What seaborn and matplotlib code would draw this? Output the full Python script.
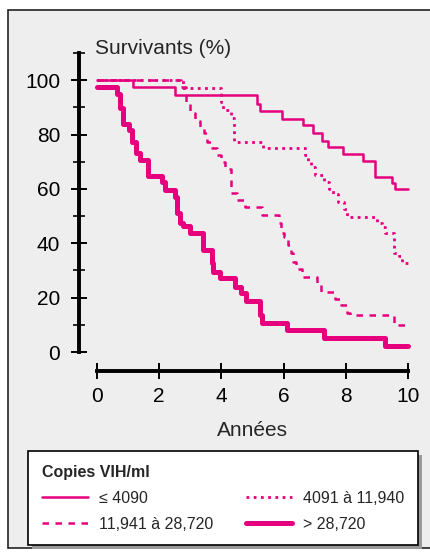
import numpy as np
import pandas as pd
import seaborn as sns
import matplotlib.pyplot as plt
from matplotlib.patches import Rectangle

# survie (%) selon la charge virale (courbes en escalier)
t_low = [0, 1.17, 2.51, 5.13, 5.24, 5.96, 6.63, 6.93, 7.22, 7.44, 7.90, 8.54, 8.94, 9.47, 9.58, 10]
s_low = [100, 97.5, 94.7, 91.4, 88.6, 85.9, 83.5, 80.6, 77.7, 75.5, 73.0, 70.2, 64.5, 62.0, 59.8, 59.8]

t_mid1 = [0, 2.75, 3.98, 4.05, 4.30, 4.40, 5.35, 6.70, 6.80, 6.88, 7.00, 7.30, 7.45, 7.58, 7.75,
          7.95, 8.05, 9.00, 9.15, 9.25, 9.55, 9.70, 9.80, 10]
s_mid1 = [100, 97.0, 92.0, 89.0, 86.0, 77.3, 75.0, 72.5, 70.0, 68.0, 65.1, 62.6, 59.8, 58.0, 55.3,
          52.5, 49.5, 47.5, 46.0, 43.9, 36.3, 35.4, 32.8, 32.8]

t_mid2 = [0, 2.70, 2.85, 3.00, 3.15, 3.30, 3.45, 3.55, 3.70, 3.85, 4.00, 4.12, 4.30, 4.50, 4.75,
          5.30, 5.85, 5.92, 6.00, 6.15, 6.25, 6.30, 6.40, 6.60, 7.07, 7.20, 7.65, 7.85, 8.05, 8.12,
          9.55, 10]
s_mid2 = [100, 97.5, 92.0, 87.8, 85.0, 82.8, 80.4, 77.2, 75.0, 72.3, 70.0, 67.2, 58.6, 55.8, 53.3,
          50.5, 47.4, 43.7, 42.3, 39.3, 36.4, 33.0, 30.4, 27.5, 24.6, 22.2, 19.4, 17.3, 14.2, 13.6,
          10.0, 10.0]

t_high = [0, 0.63, 0.74, 0.85, 1.04, 1.13, 1.24, 1.38, 1.65, 2.08, 2.19, 2.51, 2.58, 2.67, 2.77,
          3.00, 3.42, 3.69, 3.74, 3.96, 4.44, 4.63, 4.79, 5.24, 5.29, 6.10, 7.30, 9.26, 10]
s_high = [97.5, 95.0, 89.7, 84.0, 81.6, 77.3, 73.1, 70.6, 64.7, 62.6, 59.6, 57.1, 51.0, 47.4, 46.5,
          43.6, 37.5, 32.6, 29.5, 27.1, 24.0, 21.6, 18.9, 13.6, 10.8, 8.1, 5.0, 2.3, 2.3]

labels = ["\u2264 4090", "4091 \u00e0 11,940", "11,941 \u00e0 28,720", "> 28,720"]
x_ticks = [0, 2, 4, 6, 8, 10]
y_ticks = [0, 20, 40, 60, 80, 100]

MAGENTA = "#e6007e"

sns.set_style("ticks")
plt.rcParams['font.family'] = ['Liberation Sans', 'DejaVu Sans']

fig = plt.figure(figsize=(4.3, 5.58), dpi=100)
fig.patch.set_facecolor("white")
# cadre gris autour du graphique
fig.patches.append(Rectangle((8 / 430, 1 - 548 / 558), 430 / 430, 538 / 558, transform=fig.transFigure,
                             facecolor="#eeeeee", edgecolor="#222222", lw=1.2, zorder=-5))

ax = fig.add_axes([97 / 430, 1 - 352 / 558, 311 / 430, 299 / 558])
ax.set_facecolor("none")

sns.lineplot(x=t_low, y=s_low, ax=ax, color=MAGENTA, lw=1.8, drawstyle="steps-post",
             label=labels[0], estimator=None, sort=False, clip_on=False)
sns.lineplot(x=t_mid1, y=s_mid1, ax=ax, color=MAGENTA, lw=2.0, linestyle=(0, (1, 1.6)),
             drawstyle="steps-post", label=labels[1], estimator=None, sort=False, clip_on=False)
sns.lineplot(x=t_mid2, y=s_mid2, ax=ax, color=MAGENTA, lw=1.8, linestyle=(0, (2.6, 2.6)),
             drawstyle="steps-post", label=labels[2], estimator=None, sort=False, clip_on=False)
sns.lineplot(x=t_high, y=s_high, ax=ax, color=MAGENTA, lw=3.6, drawstyle="steps-post",
             label=labels[3], estimator=None, sort=False, clip_on=False)

ax.set_xlim(0, 10)
ax.set_ylim(0, 110)
ax.set_xticks(x_ticks)
ax.set_yticks(y_ticks)
ax.set_yticks(np.arange(10, 111, 20), minor=True)
ax.tick_params(axis="both", which="major", direction="inout", length=11, width=1.4,
               labelsize=15, colors="black")
ax.tick_params(axis="y", which="minor", direction="inout", length=8, width=1.4)
ax.tick_params(axis="y", pad=8)
ax.tick_params(axis="x", pad=6)

sns.despine(ax=ax, offset={"left": 13, "bottom": 13.7})
for side in ["left", "bottom"]:
    ax.spines[side].set_linewidth(2.8)
    ax.spines[side].set_color("black")

ax.set_xlabel("Ann\u00e9es", fontsize=15, labelpad=11)
ax.set_ylabel("")
fig.text(95 / 430, 1 - 53.5 / 558, "Survivants (%)", fontsize=15, va="baseline", ha="left")

h, l = ax.get_legend_handles_labels()
order = [0, 2, 1, 3]
leg = ax.legend([h[i] for i in order], [l[i] for i in order], ncol=2, loc="upper left",
                bbox_to_anchor=(28 / 430, 1 - 452 / 558, 390 / 430, 0.001), bbox_transform=fig.transFigure,
                mode="expand", fontsize=11.5, title="Copies VIH/ml", alignment="left",
                title_fontproperties={"weight": "bold", "size": 11.5},
                frameon=True, fancybox=False, framealpha=1, facecolor="white", edgecolor="black",
                handlelength=2.9, handletextpad=0.7,
                borderpad=0.85, labelspacing=0.68, borderaxespad=0)
leg.get_frame().set_linewidth(1.2)

# ombre grise sous la légende
fig.canvas.draw()
bb = leg.get_window_extent().transformed(fig.transFigure.inverted())
fig.patches.append(Rectangle((bb.x0 + 4 / 430, bb.y0 - 4 / 558), bb.width, bb.height,
                             transform=fig.transFigure, facecolor="#9a9a9a", edgecolor="none",
                             zorder=-1))

plt.savefig("out.png", dpi=100)
